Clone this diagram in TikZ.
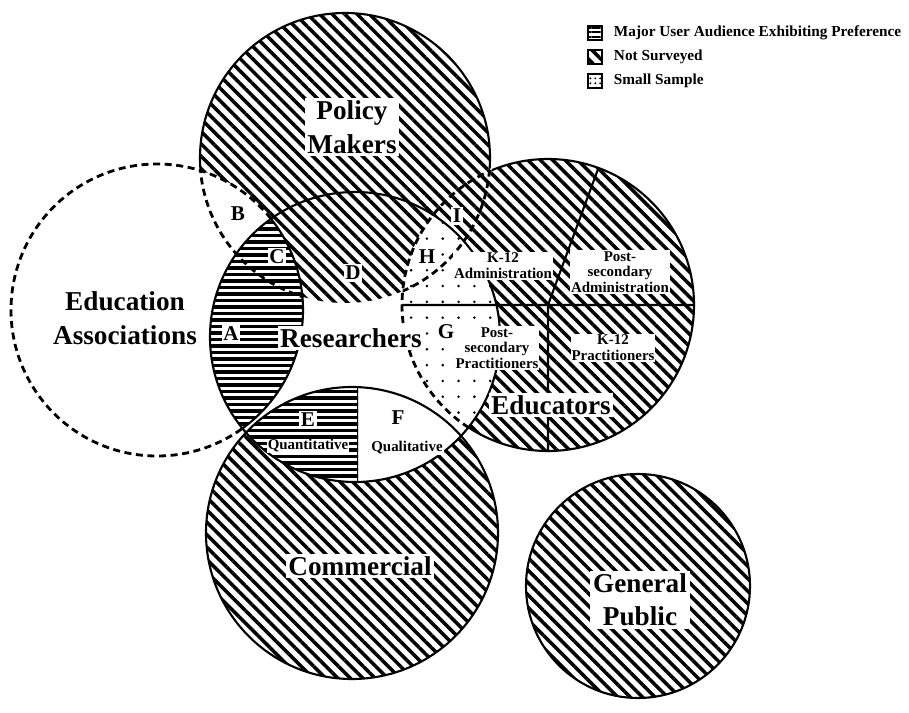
\documentclass[tikz,border=0pt]{standalone}
\usepackage{fontspec}
\setmainfont{Liberation Serif}
\usetikzlibrary{patterns.meta,positioning}

\begin{document}
\begin{tikzpicture}[x=0.02cm, y=-0.02cm,
			hatch/.style={pattern={Lines[angle=-45, distance=5pt, line width=2pt]}},
			hlines/.style={pattern={Lines[angle=0, distance=2.6pt, line width=1.2pt]}},
			sdots/.style={pattern={Dots[radius=0.8pt, distance=9pt]}},
			keydots/.style={pattern={Dots[radius=0.6pt, distance=2.8pt]}},
			stripe/.style={line width=1.9pt},
			rim/.style={line width=1.2pt},
			dashrim/.style={line width=1.6pt, dash pattern=on 4pt off 2.6pt},
			big/.style={font=\fontsize{15.5}{19}\selectfont\bfseries, fill=white, inner sep=1.5pt, align=center},
			letter/.style={font=\fontsize{12}{12}\selectfont\bfseries, fill=white, inner sep=1pt},
			small/.style={font=\fontsize{8.5}{9}\selectfont\bfseries, fill=white, inner sep=0.5pt, align=center},
			keybox/.style={draw, line width=1.2pt, minimum size=8pt, inner sep=0pt},
			keytext/.style={font=\fontsize{8.7}{9}\selectfont\bfseries, inner sep=0pt}]
			\fill[white] (0,0) rectangle (909,713);
			\useasboundingbox (0,0) rectangle (909,713);
			\coordinate (pm) at (345,158);
			\coordinate (edu) at (157,310);
			\coordinate (res) at (355,337);
			\coordinate (ed) at (548,305);
			\coordinate (com) at (352,533);
			\coordinate (gp) at (638,586);
			% not surveyed groups
			\draw[hatch, rim] (pm) circle[radius=145];
			\draw[hatch, rim] (ed) circle[radius=146];
			\draw[hatch, rim] (com) circle[radius=146];
			\draw[hatch, rim] (gp) circle[radius=112];
			% education associations
			\fill[white] (edu) circle[radius=146];
			\draw[dashrim] (edu) circle[radius=146];
			\begin{scope}
				\clip (edu) circle[radius=146];
				\draw[dashrim] (pm) circle[radius=145];
			\end{scope}
			% policy makers over educators
			\begin{scope}
				\clip (pm) circle[radius=147];
				\clip (ed) circle[radius=148];
				\fill[white] (ed) circle[radius=148];
				\fill[hatch] (ed) circle[radius=148];
			\end{scope}
			\begin{scope}
				\clip (pm) circle[radius=145];
				\draw[dashrim] (ed) circle[radius=146];
			\end{scope}
			\begin{scope}
				\clip (ed) circle[radius=146];
				\draw[dashrim] (pm) circle[radius=145];
			\end{scope}
			% researchers
			\fill[white] (res) circle[radius=145];
			\begin{scope}
				\clip (res) circle[radius=145];
				\fill[hatch] (pm) circle[radius=145];
				\fill[white] (edu) circle[radius=146];
				\begin{scope}
					\clip (edu) circle[radius=146];
					\foreach \y in {190,196.5,...,480}
						\draw[stripe] (200,\y) -- (320,\y);
				\end{scope}
				\fill[white] (ed) circle[radius=146];
				\fill[sdots] (ed) circle[radius=146];
				\fill[white] (com) circle[radius=146];
				\begin{scope}
					\clip (com) circle[radius=146];
					\clip (0,0) rectangle (358,713);
					\foreach \y in {385,391.5,...,490}
						\draw[stripe] (200,\y) -- (360,\y);
					\draw[rim] (358,380) -- (358,490);
				\end{scope}
				\draw[rim] (edu) circle[radius=146];
				\draw[rim] (com) circle[radius=146];
				\draw[dashrim] (ed) circle[radius=146];
				\begin{scope}
					\clip (edu) circle[radius=146];
					\draw[dashrim] (pm) circle[radius=145];
				\end{scope}
				\begin{scope}
					\clip (ed) circle[radius=146];
					\draw[dashrim] (pm) circle[radius=145];
				\end{scope}
			\end{scope}
			\draw[rim] (res) circle[radius=145];
			% educators sectors
			\draw[rim] (ed) -- ++(180:146) (ed) -- ++(0:146)
				(ed) -- ++(90:146) (ed) -- ++(-69.8:146);
			% group names
			\node[big] (pmname) at (352,127) {Policy\\Makers};
			\node[big] (eduname) at (125,318) {Education\\Associations};
			\node[big] (resname) at (351,338) {Researchers};
			\node[big] (edname) at (551,405) {Educators};
			\node[big] (comname) at (360,566) {Commercial};
			\node[big] (gpname) at (640,600) {General\\Public};
			% region letters
			\node[letter] (la) at (231,334) {A};
			\node[letter] (lb) at (238,214) {B};
			\node[letter] (lc) at (277,257) {C};
			\node[letter] (ld) at (353,273) {D};
			\node[letter] (le) at (308,420) {E};
			\node[letter] (lf) at (398,418) {F};
			\node[letter] (lg) at (446,332) {G};
			\node[letter] (lh) at (427,257) {H};
			\node[letter] (li) at (457,216) {I};
			% sub groups
			\node[small] (quant) at (308,446) {Quantitative};
			\node[small] (qual) at (407,448) {Qualitative};
			\node[small] (kadm) at (503,266) {K-12\\Administration};
			\node[small] (padm) at (620,272) {Post-\\secondary\\Administration};
			\node[small] (ppra) at (497,348) {Post-\\secondary\\Practitioners};
			\node[small] (kpra) at (613,348) {K-12\\Practitioners};
			% key
			\node[keybox, hlines] (boxmajor) at (595,33) {};
			\node[keybox, hatch] (boxnot) at (595,57) {};
			\node[keybox, keydots] (boxsmall) at (595,81) {};
			\node[keytext, right=6pt of boxmajor] (keymajor) {Major User Audience Exhibiting Preference};
			\node[keytext, right=6pt of boxnot] (keynot) {Not Surveyed};
			\node[keytext, right=6pt of boxsmall] (keysmall) {Small Sample};
\end{tikzpicture}
\end{document}
